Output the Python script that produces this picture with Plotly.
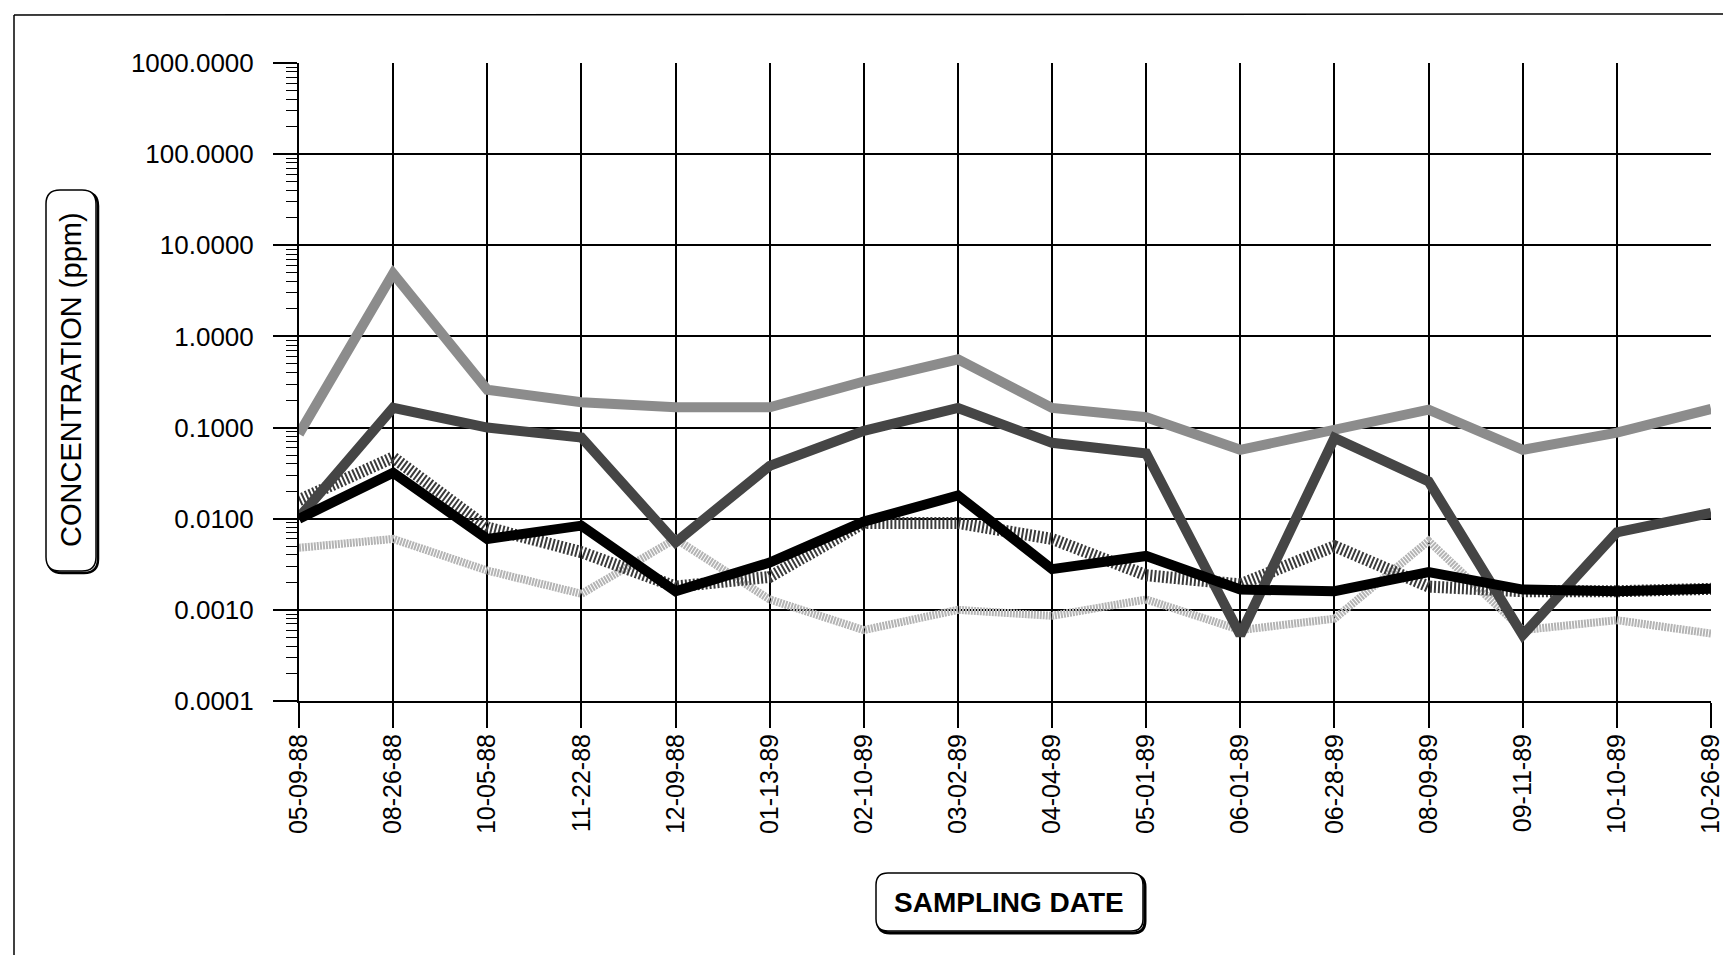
import plotly.graph_objects as go

# ---------------- data ----------------
dates = ["05-09-88", "08-26-88", "10-05-88", "11-22-88", "12-09-88", "01-13-89",
         "02-10-89", "03-02-89", "04-04-89", "05-01-89", "06-01-89", "06-28-89",
         "08-09-89", "09-11-89", "10-10-89", "10-26-89"]

series_a = [0.085, 4.9, 0.26, 0.19, 0.167, 0.167, 0.32, 0.56, 0.164, 0.13,
            0.057, 0.097, 0.157, 0.057, 0.088, 0.16]
series_b = [0.0103, 0.165, 0.1, 0.078, 0.0055, 0.038, 0.092, 0.164, 0.068, 0.052,
            0.00053, 0.077, 0.0257, 0.00053, 0.0071, 0.0116]
series_c = [0.01, 0.032, 0.006, 0.0084, 0.0016, 0.0033, 0.0093, 0.018, 0.0028, 0.0039,
            0.00167, 0.0016, 0.0026, 0.00167, 0.0016, 0.0017]
series_d = [0.016, 0.047, 0.008, 0.0043, 0.0018, 0.0023, 0.009, 0.009, 0.006, 0.0024,
            0.0019, 0.005, 0.0018, 0.0016, 0.0016, 0.0017]
series_e = [0.0048, 0.006, 0.0027, 0.0015, 0.006, 0.0013, 0.0006, 0.001, 0.00086, 0.0013,
            0.0006, 0.0008, 0.0057, 0.0006, 0.00077, 0.00055]

y_title = "CONCENTRATION (ppm)"
x_title = "SAMPLING DATE"

# ---------------- geometry ----------------
W, H = 1731, 955
L, R, T, B = 291, 1703, 55, 693   # plot area in pixels
PW, PH = R - L, B - T


def px(x):
    return (x - L) / PW


def py(y):
    return (B - y) / PH


def rounded_rect(x0, y0, x1, y1, r):
    rx, ry = r / PW, r / PH
    X0, X1 = px(x0), px(x1)
    Y0, Y1 = py(y0), py(y1)  # Y0 top (larger), Y1 bottom
    return (f"M {X0+rx},{Y0} L {X1-rx},{Y0} Q {X1},{Y0} {X1},{Y0-ry} "
            f"L {X1},{Y1+ry} Q {X1},{Y1} {X1-rx},{Y1} "
            f"L {X0+rx},{Y1} Q {X0},{Y1} {X0},{Y1+ry} "
            f"L {X0},{Y0-ry} Q {X0},{Y0} {X0+rx},{Y0} Z")


fig = go.Figure()

styles = [
    (series_e, dict(color="#b4b4b4", width=8, dash="2px,1px")),
    (series_d, dict(color="#3a3a3a", width=12, dash="2px,2px")),
    (series_a, dict(color="#8c8c8c", width=10)),
    (series_b, dict(color="#454545", width=10)),
    (series_c, dict(color="#000000", width=10)),
]
for vals, ln in styles:
    fig.add_trace(go.Scatter(x=dates, y=vals, mode="lines", line=ln,
                             showlegend=False, hoverinfo="skip"))

font = "Liberation Sans, Arial, Helvetica, sans-serif"

fig.update_layout(
    width=W, height=H,
    margin=dict(l=L, r=W - R, t=T, b=H - B, pad=0),
    paper_bgcolor="white", plot_bgcolor="white",
    font=dict(family=font, color="black"),
    showlegend=False,
)

fig.update_xaxes(
    type="category", range=[0, len(dates) - 1],
    showgrid=True, gridcolor="black", gridwidth=2,
    showline=True, linecolor="black", linewidth=2, mirror=False,
    ticks="outside", ticklen=25, tickwidth=2, tickcolor="black",
    tickangle=-90, tickfont=dict(size=25, family=font, color="black"),
    ticklabelstandoff=-4, zeroline=False,
)

fig.update_yaxes(
    type="log", range=[-4, 3], dtick=1, tickformat=".4f",
    showgrid=True, gridcolor="black", gridwidth=2,
    showline=True, linecolor="black", linewidth=2,
    ticks="outside", ticklen=24, tickwidth=2, tickcolor="black",
    tickfont=dict(size=26, family=font, color="black"),
    ticklabelstandoff=14, zeroline=False,
    minor=dict(ticks="outside", ticklen=11, tickwidth=1, tickcolor="black", showgrid=False),
)

shapes = []
# outer frame (top and left edges)
shapes.append(dict(type="line", xref="paper", yref="paper",
                   x0=px(6), y0=py(7), x1=px(W), y1=py(6),
                   line=dict(color="black", width=1.5)))
shapes.append(dict(type="line", xref="paper", yref="paper",
                   x0=px(6), y0=py(7), x1=px(6), y1=py(H),
                   line=dict(color="black", width=1.5)))
# y title box (shadow + box)
shapes.append(dict(type="path", xref="paper", yref="paper",
                   path=rounded_rect(40, 184, 90, 565, 14),
                   line=dict(color="black", width=2.5)))
shapes.append(dict(type="path", xref="paper", yref="paper",
                   path=rounded_rect(38, 182, 88, 563, 14),
                   fillcolor="white", line=dict(color="black", width=1.5)))
# x title box (shadow + box)
shapes.append(dict(type="path", xref="paper", yref="paper",
                   path=rounded_rect(870, 867, 1137, 925, 12),
                   line=dict(color="black", width=3)))
shapes.append(dict(type="path", xref="paper", yref="paper",
                   path=rounded_rect(868, 865, 1135, 923, 12),
                   fillcolor="white", line=dict(color="black", width=1.5)))
fig.update_layout(shapes=shapes)

fig.add_annotation(text=y_title, xref="paper", yref="paper",
                   x=px(63), y=py(372), textangle=-90, showarrow=False,
                   xanchor="center", yanchor="middle",
                   font=dict(size=29, family=font, color="black"))
fig.add_annotation(text="<b>" + x_title + "</b>", xref="paper", yref="paper",
                   x=px(1001), y=py(894), showarrow=False,
                   xanchor="center", yanchor="middle",
                   font=dict(size=28, family=font, color="black"))

fig.write_html("out.html")
